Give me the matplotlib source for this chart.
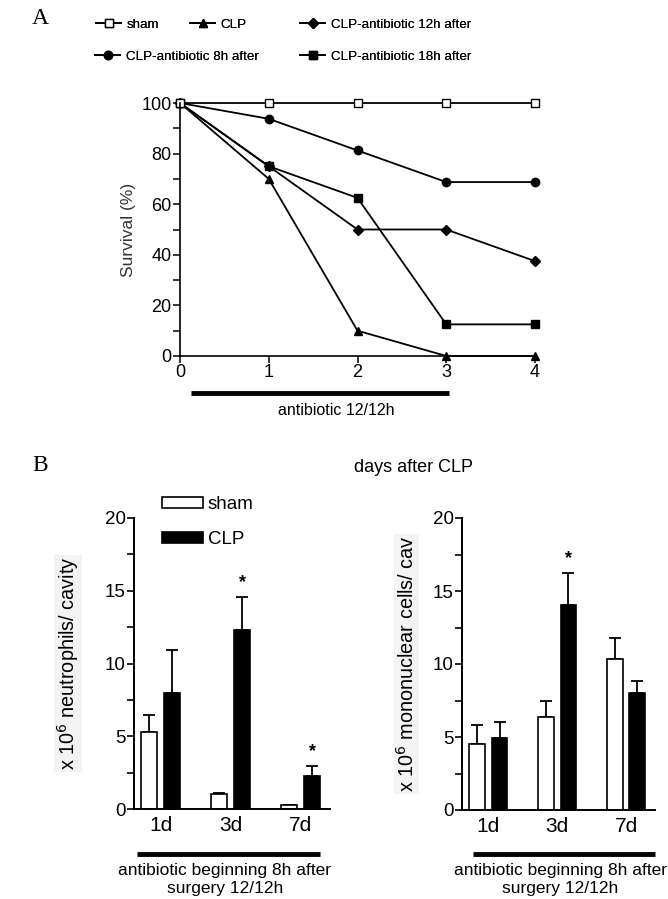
import matplotlib
matplotlib.use("Agg")
import matplotlib.pyplot as plt
import matplotlib.transforms as mtransforms
from matplotlib import font_manager
from matplotlib.lines import Line2D
from matplotlib.patches import Patch
import numpy as np

plt.rcParams["font.family"] = ["Liberation Sans", "DejaVu Sans"]

# --- Panel A: survival ---
days = [0, 1, 2, 3, 4]
surv_sham = [100, 100, 100, 100, 100]
surv_clp = [100, 70, 10, 0, 0]
surv_abx12 = [100, 75, 50, 50, 37.5]
surv_abx8 = [100, 93.75, 81.25, 68.75, 68.75]
surv_abx18 = [100, 75, 62.5, 12.5, 12.5]

# --- Panel B: cell counts (mean, upper error) ---
groups = ["1d", "3d", "7d"]
neut_sham = [5.3, 1.0, 0.25]
neut_sham_err = [1.15, 0.1, 0.05]
neut_clp = [8.0, 12.3, 2.3]
neut_clp_err = [2.9, 2.3, 0.65]
neut_star = [False, True, True]

mono_sham = [4.5, 6.35, 10.35]
mono_sham_err = [1.3, 1.15, 1.45]
mono_clp = [4.95, 14.05, 8.0]
mono_clp_err = [1.05, 2.2, 0.85]
mono_star = [False, True, False]

W, H = 668, 899
fig = plt.figure(figsize=(W / 100, H / 100), dpi=100)


def fx(px):
    return px / W


def fy(py):
    return 1 - py / H


# the legend of panel A is set in a condensed face
installed = {f.name for f in font_manager.fontManager.ttflist}
if "Liberation Sans Narrow" in installed:
    LEG_A_FONT = dict(family="Liberation Sans Narrow", size=11)
else:
    LEG_A_FONT = dict(family="Liberation Sans", size=9.6)

LW = 1.3

# ---------------- Panel A ----------------
axA = fig.add_axes([fx(180), fy(356), fx(535) - fx(180), fy(103) - fy(356)])
series = [
    ("sham", surv_sham, dict(marker="s", mfc="white", ms=5.5)),
    ("CLP", surv_clp, dict(marker="^", mfc="black", ms=5.5)),
    ("CLP-antibiotic 12h after", surv_abx12, dict(marker="D", mfc="black", ms=5.5)),
    ("CLP-antibiotic 8h after", surv_abx8, dict(marker="o", mfc="black", ms=6)),
    ("CLP-antibiotic 18h after", surv_abx18, dict(marker="s", mfc="black", ms=5.5)),
]
handles = {}
for name, vals, st in reversed(series):
    (h,) = axA.plot(days, vals, color="black", lw=LW, mec="black", mew=1.0,
                    clip_on=False, label=name, **st)
    handles[name] = h

axA.set_xlim(0, 4)
axA.set_ylim(0, 100)
axA.set_xticks(days)
axA.set_yticks(range(0, 101, 20))
axA.set_yticks(range(10, 100, 20), minor=True)
axA.spines["top"].set_visible(False)
axA.spines["right"].set_visible(False)
for s in ("left", "bottom"):
    axA.spines[s].set_linewidth(1.2)
axA.tick_params(axis="both", which="major", length=5, width=1.1, labelsize=13, pad=1)
axA.tick_params(axis="y", which="minor", length=5, width=1.1)
axA.set_ylabel("Survival (%)", fontsize=12.5, labelpad=4, color="#333333")

# antibiotic bar under the x-axis
tA = mtransforms.blended_transform_factory(axA.transData, fig.transFigure)
axA.plot([0.12, 3.03], [fy(393), fy(393)], color="black", lw=3.5,
         transform=tA, clip_on=False, solid_capstyle="butt")
fig.text(fx(336), fy(411), "antibiotic 12/12h", ha="center", va="center", fontsize=11.5)
fig.text(fx(413), fy(467), "days after CLP", ha="center", va="center", fontsize=13)

# legend entries placed individually
leg_pos = {
    "sham": (96, 25),
    "CLP": (190, 25),
    "CLP-antibiotic 12h after": (300, 25),
    "CLP-antibiotic 8h after": (95, 57),
    "CLP-antibiotic 18h after": (300, 57),
}
for name, (px, py) in leg_pos.items():
    lg = fig.legend([handles[name]], [name], loc="center left",
                    bbox_to_anchor=(fx(px), fy(py)), frameon=False,
                    prop=LEG_A_FONT, handlelength=1.9, handletextpad=0.4,
                    borderpad=0, borderaxespad=0)
    fig.add_artist(lg)

fig.text(fx(40), fy(18), "A", fontsize=17, family="Liberation Serif",
         ha="center", va="center")
fig.text(fx(40), fy(465), "B", fontsize=17, family="Liberation Serif",
         ha="center", va="center")


# ---------------- Panel B ----------------
def bar_panel(ax, sham, sham_err, clp, clp_err, stars, ylabel, pad):
    x = np.arange(len(groups))
    off, bw = 0.165, 0.23
    ax.bar(x - off, sham, bw, color="white", edgecolor="black", lw=1.2, zorder=2)
    ax.bar(x + off, clp, bw, color="black", edgecolor="black", lw=1.2, zorder=2)
    ax.errorbar(x - off, sham, yerr=[np.zeros(len(x)), sham_err], fmt="none",
                ecolor="black", elinewidth=1.3, capsize=4, capthick=1.3, zorder=1)
    ax.errorbar(x + off, clp, yerr=[np.zeros(len(x)), clp_err], fmt="none",
                ecolor="black", elinewidth=1.3, capsize=4, capthick=1.3, zorder=1)
    for i, st in enumerate(stars):
        if st:
            ax.text(x[i] + off, clp[i] + clp_err[i] + 0.4, "*", ha="center",
                    va="bottom", fontsize=13, fontweight="bold")
    ax.set_xlim(-0.38, 2.42)
    ax.set_ylim(0, 20)
    ax.set_xticks(x)
    ax.set_xticklabels(groups)
    ax.set_yticks([0, 5, 10, 15, 20])
    ax.set_yticks([2.5, 7.5, 12.5, 17.5], minor=True)
    ax.spines["top"].set_visible(False)
    ax.spines["right"].set_visible(False)
    for s in ("left", "bottom"):
        ax.spines[s].set_linewidth(1.4)
    ax.tick_params(axis="y", which="major", length=5, width=1.2, labelsize=13.5, pad=1)
    ax.tick_params(axis="y", which="minor", length=5, width=1.2)
    ax.tick_params(axis="x", length=0, labelsize=15, pad=5)
    ax.set_ylabel(ylabel, fontsize=14.3, labelpad=pad,
                  bbox=dict(facecolor="#f3f3f3", edgecolor="none", pad=1))


axL = fig.add_axes([fx(134), fy(809), fx(330) - fx(134), fy(518) - fy(809)])
bar_panel(axL, neut_sham, neut_sham_err, neut_clp, neut_clp_err, neut_star,
          "x 10$^6$ neutrophils/ cavity", 17)
axR = fig.add_axes([fx(462), fy(810), fx(655) - fx(462), fy(518) - fy(810)])
bar_panel(axR, mono_sham, mono_sham_err, mono_clp, mono_clp_err, mono_star,
          "x 10$^6$ mononuclear cells/ cav", 11)

legB = fig.legend([Patch(facecolor="white", edgecolor="black", lw=1.2),
                   Patch(facecolor="black", edgecolor="black", lw=1.2)],
                  ["sham", "CLP"], loc="upper left",
                  bbox_to_anchor=(fx(162), fy(496)), frameon=False, fontsize=13.5,
                  handlelength=2.2, handleheight=0.53, handletextpad=0.25,
                  labelspacing=0.95, borderpad=0, borderaxespad=0)

# treatment bars + captions under the bar panels
for (x0, x1, xc) in [(137, 320, 225), (473, 655, 560)]:
    fig.add_artist(Line2D([fx(x0), fx(x1)], [fy(854), fy(854)], color="black",
                          lw=3.5, solid_capstyle="butt"))
    fig.text(fx(xc), fy(871), "antibiotic beginning 8h after", ha="center",
             va="center", fontsize=12.5)
    fig.text(fx(xc), fy(889), "surgery 12/12h", ha="center", va="center",
             fontsize=12.5)

fig.savefig("out.png", dpi=100)
